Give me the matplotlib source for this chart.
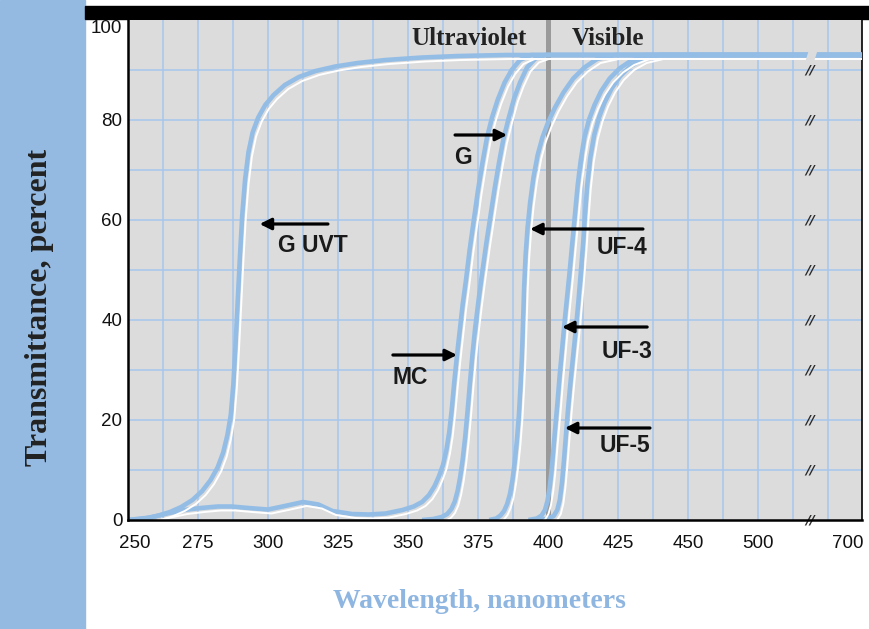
import numpy as np
import matplotlib.pyplot as plt
from matplotlib import transforms
from matplotlib.patches import Rectangle

# Kurva transmitansi (nm, persen)
guvt_nm = [250, 256, 261, 265, 269, 273, 276.5, 279.5, 282, 284, 285.5, 286.7, 287.6, 288.4,
           289.2, 290, 290.8, 291.8, 293, 294.5, 296.5, 299, 302, 306, 311, 317, 324, 332,
           342, 355, 368, 385, 450, 750]
guvt_pct = [0, 0.3, 0.9, 1.6, 2.6, 4, 5.8, 8, 10.5, 13.5, 17, 21, 27, 35,
            44, 53, 61, 68, 73.5, 77.5, 80.5, 83, 85, 87, 88.6, 89.8, 90.7, 91.4,
            92, 92.5, 92.8, 93, 93, 93]

mc_nm = [250, 258, 264, 270, 276, 282, 287, 293, 300, 306, 312.5, 318, 323, 330, 336, 342,
         348, 352, 355, 357.5, 359.5, 361, 362.5, 363.7, 364.7, 365.6, 366.5, 367.5, 368.5,
         369.5, 370.7, 372, 373.5, 375, 376.6, 378.2, 380, 382, 384.5, 387, 390, 394, 750]
mc_pct = [0, 0.5, 1.3, 2, 2.4, 2.7, 2.7, 2.4, 2.1, 2.8, 3.6, 3.1, 1.8, 1.2, 1.1, 1.3,
          2, 2.7, 3.6, 5, 6.8, 8.7, 11, 14, 17.5, 22, 27.5, 33, 38,
          43, 48, 54, 60, 66, 71.5, 76.5, 80.5, 84, 87.5, 90, 92, 93, 93]

g_nm = [355, 359, 362, 364, 365.5, 366.7, 367.7, 368.6, 369.5, 370.4, 371.3, 372.2, 373,
        374, 375.2, 376.5, 378, 379.5, 381, 382.5, 384, 386, 388, 390, 392.5, 395.5, 399, 750]
g_pct = [0, 0.2, 0.6, 1.2, 2.2, 3.7, 5.8, 8.5, 12, 16.5, 22, 28, 33,
         38.5, 44, 49.5, 55.5, 61, 66.5, 71.5, 76, 80.5, 84.5, 87.5, 90.5, 92.3, 93, 93]

uf4_nm = [379, 381.5, 383, 384.3, 385.4, 386.4, 387.3, 388.1, 388.9, 389.6, 390.2, 390.7,
          391.1, 391.5, 392, 392.7, 393.6, 394.8, 396.3, 398, 400, 402.5, 405.5, 409, 413,
          417.5, 424, 750]
uf4_pct = [0, 0.3, 0.9, 1.8, 3.2, 5.2, 8, 11.5, 16, 21, 27, 33,
           40, 47, 53, 58.5, 63.5, 68.5, 73, 76.5, 79.5, 82.5, 85.5, 88.3, 90.5,
           92.2, 93, 93]

uf3_nm = [393, 396, 397.7, 398.9, 399.8, 400.6, 401.3, 401.9, 402.5, 403.3, 404.1, 405,
          405.8, 406.7, 407.6, 408.6, 409.6, 410.6, 411.7, 413, 414.6, 416.6, 419, 422,
          425.5, 429.5, 435, 750]
uf3_pct = [0, 0.3, 0.9, 2, 3.8, 6.5, 10, 14, 18, 23, 28.5, 34,
           39, 44, 49, 55, 61, 67, 72, 76.5, 80, 83, 85.8, 88.3,
           90.3, 91.8, 93, 93]

uf5_nm = [397, 400, 402, 403.3, 404.2, 405, 405.7, 406.4, 407.2, 408.1, 409, 410, 410.9,
          411.7, 412.5, 413.2, 414, 415.1, 416.5, 418.2, 420.2, 422.7, 425.8, 429.5, 434,
          440, 750]
uf5_pct = [0, 0.3, 0.8, 2, 4, 7.5, 12, 17, 22.5, 28, 33, 38.5, 44,
           49.5, 55, 61, 67, 72.5, 77, 80.5, 83.5, 86.3, 88.8, 90.8, 92.2,
           93, 93]

kurva = [(guvt_nm, guvt_pct), (mc_nm, mc_pct), (g_nm, g_pct),
         (uf4_nm, uf4_pct), (uf3_nm, uf3_pct), (uf5_nm, uf5_pct)]

# Label dan panah: teks, posisi teks, ujung panah, pangkal panah
label_teks = ['G UVT', 'G', 'MC', 'UF-4', 'UF-3', 'UF-5']
label_xy = [(303.6, 55), (366.5, 72.6), (344.6, 28.4), (417.5, 54.4), (419, 33.8), (418.6, 14.8)]
panah_ujung = [(297, 59.2), (385.4, 77), (367.5, 33), (393.6, 58.2), (405, 38.6), (406, 18.4)]
panah_pangkal = [(321.4, 59.2), (366.8, 77), (344.6, 33), (433.9, 58.2), (435.4, 38.6), (436.4, 18.4)]

x_ticks = [250, 275, 300, 325, 350, 375, 400, 425, 450, 500, 700]
y_ticks = [0, 20, 40, 60, 80, 100]

# Skala sumbu x yang terputus (450-500 dan 500-700 dipadatkan)
nm_knots = [250, 450, 500, 700, 900]
pos_knots = [0, 16, 18, 20.57, 23.14]


def maju(x):
    return np.interp(x, nm_knots, pos_knots)


def balik(u):
    return np.interp(u, pos_knots, nm_knots)


biru = '#94bde6'
grid_biru = '#a6c7ec'
latar = '#dcdcdc'

fig = plt.figure(figsize=(8.7, 6.29), dpi=100)
fig.add_artist(Rectangle((0, 0), 85 / 870, 1, transform=fig.transFigure,
                         color='#95bae2', zorder=0))
fig.add_artist(Rectangle((85 / 870, 1 - 19 / 629), 1 - 85 / 870, 13 / 629,
                         transform=fig.transFigure, color='black', zorder=0))

ax = fig.add_axes([128 / 870, 1 - 520 / 629, 734 / 870, 500 / 629])
ax.set_facecolor(latar)
ax.set_xscale('function', functions=(maju, balik))
ax.set_xlim(250, balik(20.97))
ax.set_ylim(0, 100)

# grid manual
for u in range(1, 21):
    ax.axvline(balik(u), color=grid_biru, lw=1.1, zorder=1)
for v in range(10, 100, 10):
    ax.axhline(v, color=grid_biru, lw=1.1, zorder=1)

# garis batas ultraviolet / visible
ax.axvline(400, color='#9a9a9a', lw=3.6, zorder=2)
ax.text(392.5, 96.3, 'Ultraviolet', ha='right', va='center', family='Liberation Serif',
        fontweight='bold', fontsize=18, color='#222222', zorder=5)
ax.text(408.5, 96.3, 'Visible', ha='left', va='center', family='Liberation Serif',
        fontweight='bold', fontsize=18, color='#222222', zorder=5)

geser_putih = transforms.offset_copy(ax.transData, fig=fig, x=3.5, y=-4, units='dots')
for nm, pct in kurva:
    ax.plot(nm, pct, color=biru, lw=3.3, zorder=3, solid_capstyle='butt',
            solid_joinstyle='round')
    ax.plot(nm, pct, color='white', lw=1.4, zorder=4, transform=geser_putih,
            solid_capstyle='butt', solid_joinstyle='round')

# celah putus pada garis atas dan tanda //
xb = balik(19.5)
ax.fill([balik(19.3), balik(19.55), balik(19.75), balik(19.5)], [90.6, 90.6, 95, 95],
        color=latar, zorder=5, lw=0)
for v in range(0, 100, 10):
    ax.text(xb, v, '//', ha='center', va='center', fontsize=9.5, fontweight='bold',
            fontstyle='italic', color='#2a2a2a', zorder=6, clip_on=False)

for teks, xy, ujung, pangkal in zip(label_teks, label_xy, panah_ujung, panah_pangkal):
    ax.text(xy[0], xy[1], teks, ha='left', va='center', family='Liberation Sans',
            fontweight='bold', fontsize=16.5, color='#1a1a1a', zorder=6)
    ax.annotate('', xy=ujung, xytext=pangkal,
                arrowprops=dict(arrowstyle='-|>', color='black', lw=2.3,
                                mutation_scale=17, shrinkA=0, shrinkB=0), zorder=6)

ax.set_xticks(x_ticks)
ax.set_xticklabels([str(t) for t in x_ticks])
ax.set_yticks(y_ticks)
ax.set_yticklabels([str(t) for t in y_ticks])
ax.tick_params(axis='both', length=0, labelsize=13.5, labelcolor='#111111')
ax.tick_params(axis='x', pad=11)
ax.tick_params(axis='y', pad=4)
for lab in ax.get_xticklabels() + ax.get_yticklabels():
    lab.set_family('Liberation Sans')
lab250 = ax.get_xticklabels()[0]
lab250.set_transform(lab250.get_transform() + transforms.ScaledTranslation(7 / 100, 0, fig.dpi_scale_trans))
lab100 = ax.get_yticklabels()[-1]
lab100.set_va('top')

for s in ['left', 'bottom']:
    ax.spines[s].set_linewidth(1.8)
ax.spines['right'].set_linewidth(1.2)
ax.spines['top'].set_visible(False)
ax.spines['left'].set_zorder(7)
ax.spines['bottom'].set_zorder(7)

fig.text(40 / 870, 1 - 307 / 629, 'Transmittance, percent', rotation=90, ha='center',
         va='center', family='Liberation Serif', fontweight='bold', fontsize=23,
         color='#222222')
fig.text(479 / 870, 1 - 601 / 629, 'Wavelength, nanometers', ha='center', va='center',
         family='Liberation Serif', fontweight='bold', fontsize=20, color='#8fb6e0')

fig.savefig('out.png', dpi=100)
